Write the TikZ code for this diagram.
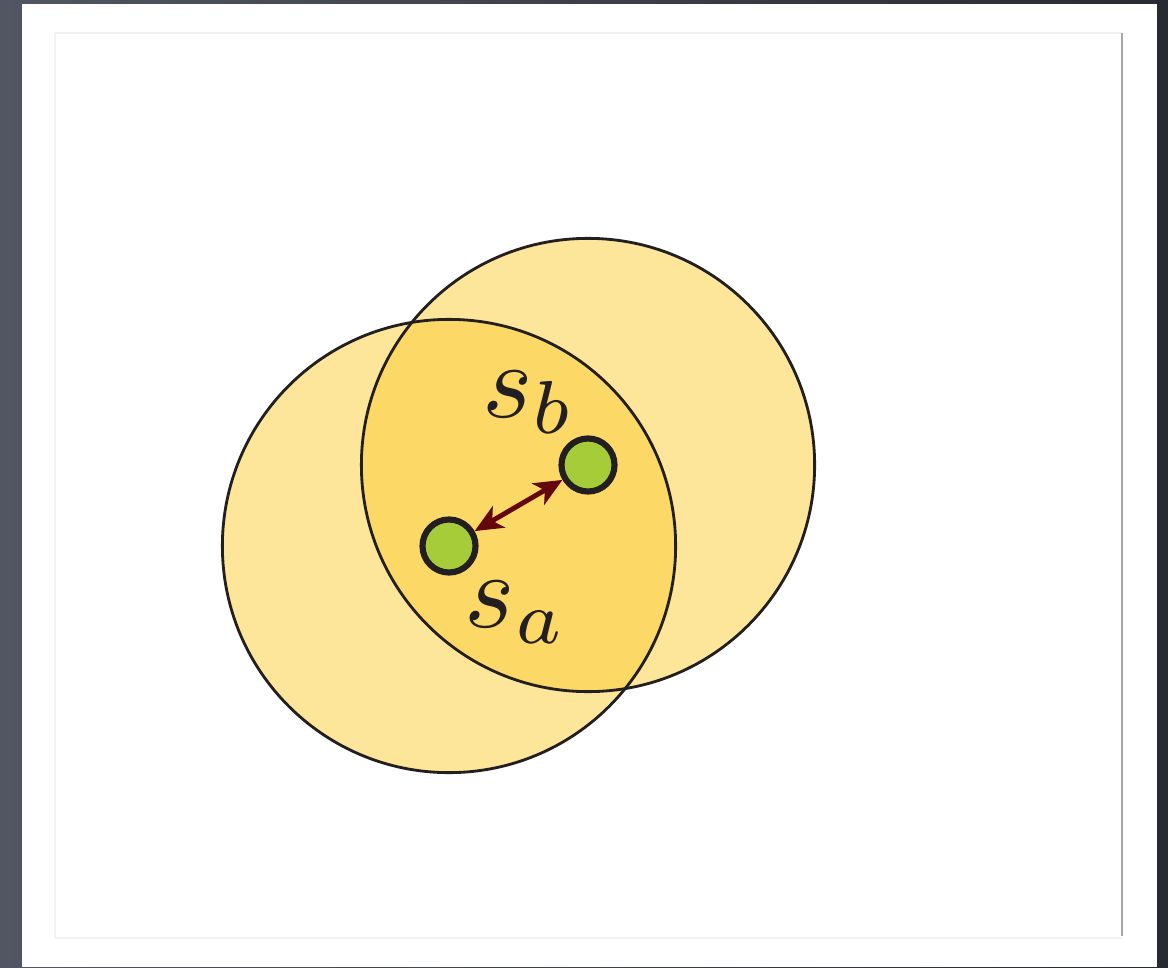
\documentclass[tikz,border=0pt]{standalone}
\usepackage{amsmath}
\usepackage{tikz}
\usetikzlibrary{arrows.meta,positioning,calc}

\definecolor{discfill}{RGB}{252,204,52}
\definecolor{ink}{RGB}{35,31,32}
\definecolor{dotgreen}{RGB}{166,204,58}
\definecolor{linkred}{RGB}{100,8,14}
\definecolor{frameL}{RGB}{82,86,98}
\definecolor{frameR}{RGB}{40,42,50}

\begin{document}
\begin{tikzpicture}[
    x=0.01cm, y=-0.01cm,
    >=Stealth,
    disc/.style={fill=discfill, fill opacity=0.5},
    rim/.style={draw=ink, line width=0.8pt},
    site/.style={circle, draw=ink, fill=dotgreen, line width=1.75pt, minimum size=0.53cm, inner sep=0pt},
    lab/.style={text=ink, scale=3.05, inner sep=0pt},
    link/.style={draw=linkred, line width=1.4pt,
                 arrows={Stealth[length=8pt, width=7pt, inset=2.2pt]-Stealth[length=8pt, width=7pt, inset=2.2pt]}}
  ]
  \useasboundingbox (0,0) rectangle (1168,967);
  % screenshot frame
  \shade[left color=frameL, right color=frameR] (0,0) rectangle (1168,967);
  \fill[white] (22,4) rectangle (1157,967);
  \draw[gray!10, line width=0.4pt] (55,938) -- (55,33) -- (1122,33);
  \draw[gray!10, line width=0.4pt] (55,938) -- (1122,938);
  \draw[gray!70, line width=0.6pt] (1122,33) -- (1122,936);

  \coordinate (ca) at (449,546);
  \coordinate (cb) at (588,465);
  \fill[disc] (ca) circle (2.265cm);
  \fill[disc] (cb) circle (2.265cm);
  \draw[rim] (ca) circle (2.265cm);
  \draw[rim] (cb) circle (2.265cm);

  \node[site] (sa) at (ca) {};
  \node[site] (sb) at (cb) {};
  \draw[link] (sa) -- (sb);

  \node[lab] (la) at (516,612) {$s_a$};
  \node[lab] (lb) at (529,402) {$s_b$};
\end{tikzpicture}
\end{document}
